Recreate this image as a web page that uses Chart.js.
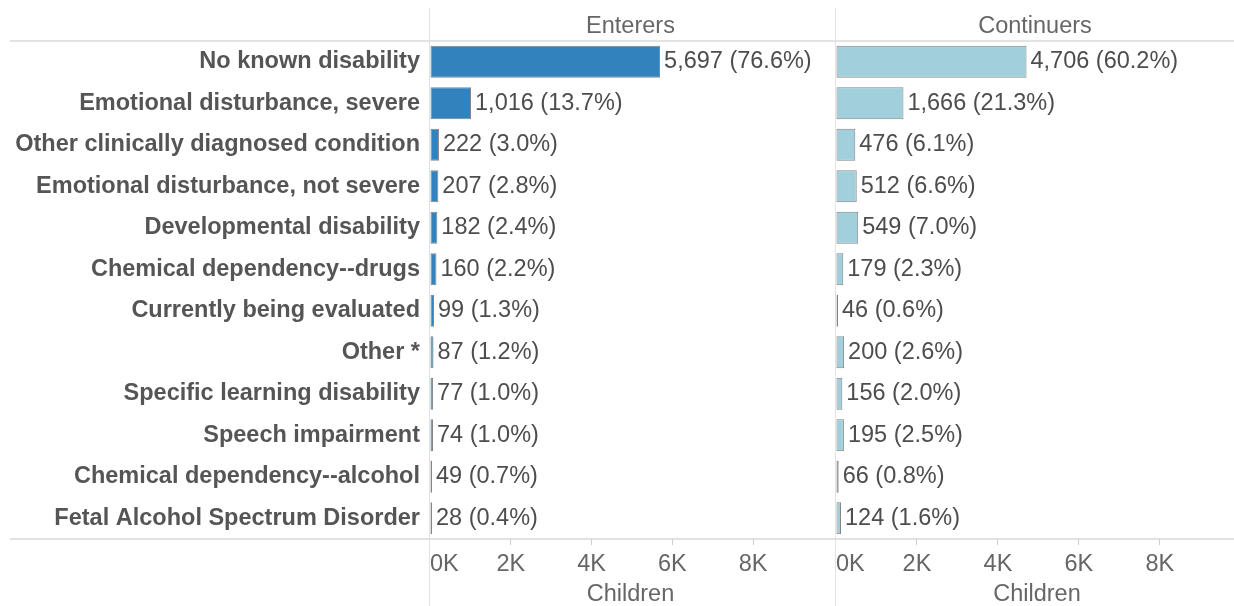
<!DOCTYPE html>
<html>
<head>
<meta charset="utf-8">
<script src="https://cdn.jsdelivr.net/npm/chart.js@4.4.1/dist/chart.umd.min.js"></script>
<style>
  html, body { margin: 0; padding: 0; background: #fff; overflow: hidden; width: 1234px; height: 606px; position: relative; }
  canvas { position: absolute; top: 0; }
  #cA { left: 0; }
  #cB { left: 830px; }
</style>
</head>
<body>
<canvas id="cA" width="836" height="606"></canvas>
<canvas id="cB" width="412" height="606"></canvas>
<script>
const categories = [
  "No known disability",
  "Emotional disturbance, severe",
  "Other clinically diagnosed condition",
  "Emotional disturbance, not severe",
  "Developmental disability",
  "Chemical dependency--drugs",
  "Currently being evaluated",
  "Other *",
  "Specific learning disability",
  "Speech impairment",
  "Chemical dependency--alcohol",
  "Fetal Alcohol Spectrum Disorder"
];
const panelTitles = ["Enterers", "Continuers"];
const enterers = [5697, 1016, 222, 207, 182, 160, 99, 87, 77, 74, 49, 28];
const enterersPct = [76.6, 13.7, 3.0, 2.8, 2.4, 2.2, 1.3, 1.2, 1.0, 1.0, 0.7, 0.4];
const continuers = [4706, 1666, 476, 512, 549, 179, 46, 200, 156, 195, 66, 124];
const continuersPct = [60.2, 21.3, 6.1, 6.6, 7.0, 2.3, 0.6, 2.6, 2.0, 2.5, 0.8, 1.6];
const tickValues = [0, 2000, 4000, 6000, 8000];
const tickLabels = ["0K", "2K", "4K", "6K", "8K"];
const axisTitle = "Children";

const FONT = "'Liberation Sans', Arial, Helvetica, sans-serif";
const FS = 23.5;
const LINE = '#e2e2e2';
const PANEL_DIVIDER = 836;
const PAGE_W = 1234;
const AXIS_MAX = 9930;

function fmt(n) { return n.toLocaleString('en-US'); }

function framePlugin(title, pcts, isLeft) {
  return {
    id: 'frame' + (isLeft ? 'A' : 'B'),
    beforeDraw(chart) {
      const ctx = chart.ctx, a = chart.chartArea, W = chart.width;
      ctx.save();
      ctx.strokeStyle = LINE;
      ctx.lineWidth = 2;
      ctx.beginPath();
      ctx.moveTo(isLeft ? 10 : 0, a.top); ctx.lineTo(W, a.top);
      ctx.moveTo(isLeft ? 10 : 0, a.bottom); ctx.lineTo(W, a.bottom);
      ctx.stroke();
      if (isLeft) {
        ctx.lineWidth = 1;
        ctx.beginPath();
        ctx.moveTo(a.left - 0.5, 8); ctx.lineTo(a.left - 0.5, chart.height);
        ctx.moveTo(W - 0.5, 8); ctx.lineTo(W - 0.5, chart.height);
        ctx.stroke();
      }
      ctx.fillStyle = '#666';
      ctx.font = FS + 'px ' + FONT;
      ctx.textAlign = 'center';
      ctx.textBaseline = 'alphabetic';
      const right = isLeft ? a.right : a.left + (PAGE_W - PANEL_DIVIDER);
      ctx.fillText(title, (a.left + right) / 2, 32.5);
      ctx.restore();
    },
    afterDatasetsDraw(chart) {
      const ctx = chart.ctx;
      const meta = chart.getDatasetMeta(0);
      const vals = chart.data.datasets[0].data;
      ctx.save();
      ctx.fillStyle = '#4d4d4d';
      ctx.font = FS + 'px ' + FONT;
      ctx.textAlign = 'left';
      ctx.textBaseline = 'alphabetic';
      meta.data.forEach((bar, i) => {
        ctx.fillText(fmt(vals[i]) + ' (' + pcts[i].toFixed(1) + '%)', bar.x + 4, bar.y + 6.5);
      });
      ctx.restore();
    }
  };
}

function xScale(max) {
  return {
    type: 'linear',
    min: 0,
    max: max,
    afterBuildTicks(scale) {
      const t = tickValues.map(v => ({ value: v }));
      t.push({ value: max });
      scale.ticks = t;
    },
    afterFit(scale) { scale.height = 67; },
    ticks: {
      autoSkip: false,
      maxRotation: 0,
      align: 'inner',
      padding: 5,
      color: '#666',
      font: { family: FONT, size: FS, lineHeight: 1.2 },
      callback(v) {
        const i = tickValues.indexOf(v);
        return i >= 0 ? tickLabels[i] : '';
      }
    },
    grid: {
      drawOnChartArea: false,
      drawTicks: true,
      tickLength: 6,
      color: (c) => (c.tick && tickValues.indexOf(c.tick.value) > 0) ? '#cfcfcf' : 'rgba(0,0,0,0)'
    },
    border: { display: false },
    title: {
      display: true,
      text: axisTitle,
      color: '#666',
      font: { family: FONT, size: FS, lineHeight: 1 },
      padding: { top: 0, bottom: 0 }
    }
  };
}

function makeChart(id, data, pcts, color, title, max, isLeft) {
  return new Chart(document.getElementById(id), {
    type: 'bar',
    data: {
      labels: categories,
      datasets: [{
        data: data,
        backgroundColor: color,
        borderColor: 'rgba(110,110,110,0.85)',
        borderWidth: 1,
        borderSkipped: false,
        barPercentage: 0.77,
        categoryPercentage: 1.0,
        minBarLength: 2
      }]
    },
    options: {
      indexAxis: 'y',
      responsive: false,
      animation: false,
      devicePixelRatio: 1,
      layout: { padding: { top: 41, left: 0, right: 0, bottom: 0 } },
      plugins: { legend: { display: false }, tooltip: { enabled: false }, title: { display: false } },
      scales: {
        x: xScale(max),
        y: {
          type: 'category',
          display: isLeft,
          afterFit(scale) { scale.width = isLeft ? 430 : 0; },
          ticks: {
            color: '#555',
            padding: 10,
            labelOffset: 0,
            font: { family: FONT, size: FS, weight: 'bold' }
          },
          grid: { display: false, drawTicks: false },
          border: { display: false }
        }
      }
    },
    plugins: [framePlugin(title, pcts, isLeft)]
  });
}

makeChart('cA', enterers, enterersPct, '#3182bd', panelTitles[0], AXIS_MAX, true);
const chartB = makeChart('cB', continuers, continuersPct, '#a2cfdc', panelTitles[1], AXIS_MAX, false);
// place panel B so its zero line sits on the panel divider
document.getElementById('cB').style.left = (PANEL_DIVIDER - chartB.chartArea.left) + 'px';
</script>
</body>
</html>
